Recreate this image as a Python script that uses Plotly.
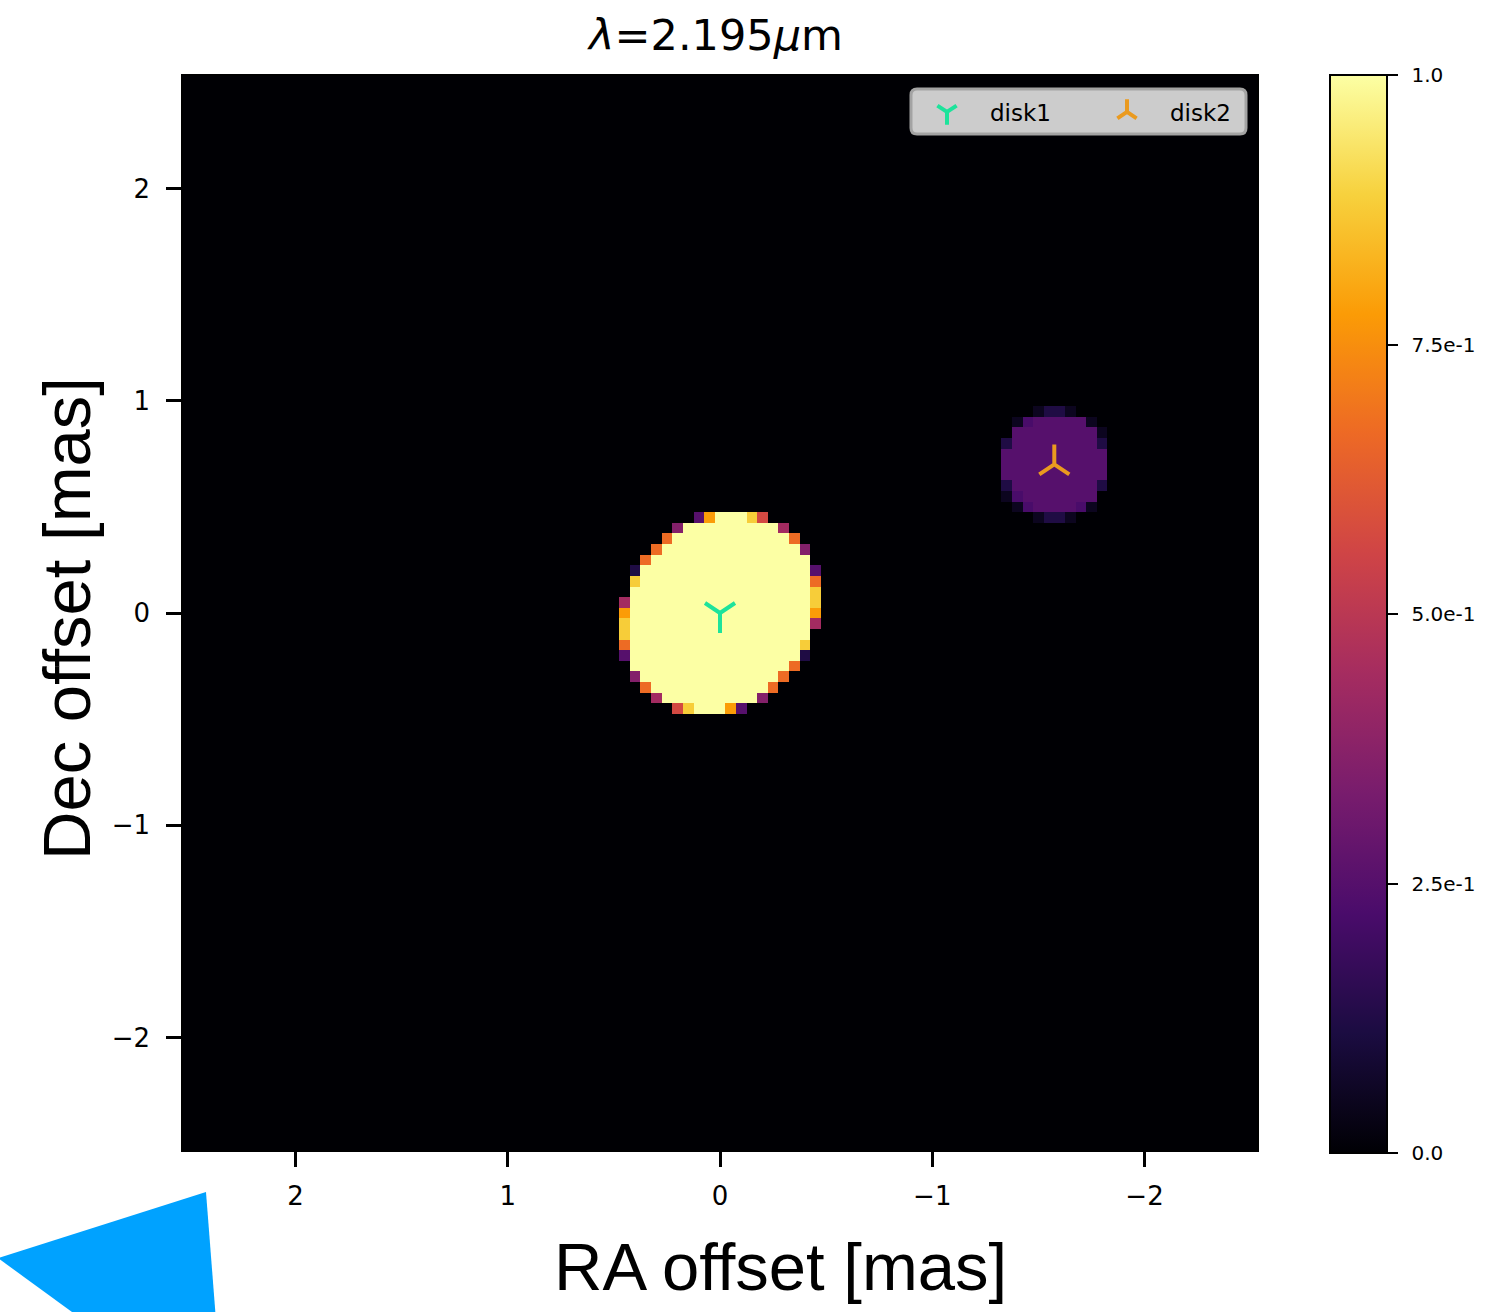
import numpy as np
import plotly.graph_objects as go

# ---------------- data ----------------
PIX = 0.05          # mas per image pixel
N = 101             # image is N x N pixels, centred on 0
COLOR_LEVELS = {'.': 0.0, 'k': 0.05, 'n': 0.12, 'q': 0.22, 'p': 0.25, 'm': 0.36,
                'M': 0.44, 'r': 0.57, 'o': 0.67, 'O': 0.78, 'y': 0.88, '#': 1.0}

# pixel maps (rows top->bottom, columns left->right on screen)
DISK1_MAP = [
    ".......pO###yr.....",
    ".....m#########M...",
    "....o###########o..",
    "...o#############m.",
    "..o###############.",
    ".n################p",
    ".y################o",
    ".#################y",
    "M#################y",
    "O#################O",
    "y#################M",
    "y#################.",
    "o################y.",
    "p################n.",
    ".###############o..",
    ".m#############o...",
    "..o###########o....",
    "...M#########m.....",
    ".....ry###Op.......",
]
DISK2_MAP = [
    "...knnk...",
    ".kqpppppk.",
    ".ppppppppk",
    "nppppppppn",
    "pppppppppp",
    "pppppppppp",
    "pppppppppp",
    "nppppppppn",
    "kqppppppp.",
    ".kqppppqk.",
    "...knnk...",
]
DISK_NAMES = ["disk1", "disk2"]
DISK_RA = [0.0, -1.575]     # mas
DISK_DEC = [0.0, 0.70]      # mas
DISK_MAPS = [DISK1_MAP, DISK2_MAP]

X_TICKS = [2, 1, 0, -1, -2]
X_TICKTEXT = ["2", "1", "0", "\u22121", "\u22122"]
Y_TICKS = [-2, -1, 0, 1, 2]
Y_TICKTEXT = ["\u22122", "\u22121", "0", "1", "2"]
CB_TICKS = [0.0, 0.25, 0.5, 0.75, 1.0]
CB_TICKTEXT = ["0.0", "2.5e-1", "5.0e-1", "7.5e-1", "1.0"]
TITLE = "<i>\u03bb</i>=2.195<i>\u03bc</i>m"

# ---------------- build image ----------------
coords = (np.arange(N) - N // 2) * PIX
z = np.zeros((N, N))
for pat, ra, dec in zip(DISK_MAPS, DISK_RA, DISK_DEC):
    nr, nc = len(pat), len(pat[0])
    cx = -ra / PIX
    cy = -dec / PIX
    c0 = int(round(cx - (nc - 1) / 2))
    r0 = int(round(cy - (nr - 1) / 2))
    for i, row in enumerate(pat):
        for j, ch in enumerate(row):
            r = r0 + i
            c = c0 + j
            iy = N // 2 - r
            ix = N // 2 - c
            if 0 <= iy < N and 0 <= ix < N:
                z[iy, ix] = max(z[iy, ix], COLOR_LEVELS[ch])

# ---------------- style ----------------
W, H = 1485, 1312
L, R, T, B = 183, 228, 76, 162
PW = W - L - R
PH = H - T - B
TICK_FONT = dict(family="DejaVu Sans", size=26, color="black")
LABEL_FONT = dict(family="Liberation Sans, Arial, sans-serif", size=67, color="black")
MARKER_SYMBOLS = ["y-down", "y-up"]
MARKER_COLORS = ["#1de39b", "#ea9a1f"]
PAD = "\u2002"


def px_x(p):
    return (p - L) / PW


def px_y(p):
    return (H - B - p) / PH


def rounded_rect(x0, y0, x1, y1, rad):
    return ("M {a},{b} L {c},{b} Q {x1},{b} {x1},{d} L {x1},{e} Q {x1},{f} {c},{f} "
            "L {a},{f} Q {x0},{f} {x0},{e} L {x0},{d} Q {x0},{b} {a},{b} Z").format(
        a=px_x(x0 + rad), b=px_y(y0), c=px_x(x1 - rad), d=px_y(y0 + rad),
        e=px_y(y1 - rad), f=px_y(y1), x0=px_x(x0), x1=px_x(x1))


fig = go.Figure()
fig.add_trace(go.Heatmap(
    x=coords, y=coords, z=z, zmin=0, zmax=1,
    colorscale="Inferno", showscale=True, hoverinfo="skip",
    colorbar=dict(
        x=px_x(1330), xanchor="left", xpad=0, ypad=0,
        y=px_y(614), yanchor="middle",
        len=1078, lenmode="pixels",
        thickness=57, thicknessmode="pixels",
        outlinecolor="black", outlinewidth=2,
        tickvals=CB_TICKS, ticktext=[PAD + t for t in CB_TICKTEXT],
        ticks="outside", ticklen=10, tickwidth=2, tickcolor="black",
        tickfont=dict(family="DejaVu Sans", size=20, color="black"),
    ),
))

for name, ra, dec, sym, col in zip(DISK_NAMES, DISK_RA, DISK_DEC, MARKER_SYMBOLS, MARKER_COLORS):
    fig.add_trace(go.Scatter(
        x=[ra], y=[dec], mode="markers", name=name,
        marker=dict(symbol=sym, size=25, color=col, line=dict(color=col, width=4)),
    ))

fig.update_layout(
    width=W, height=H,
    margin=dict(l=L, r=R, t=T, b=B, autoexpand=False),
    paper_bgcolor="white", plot_bgcolor="#000004",
    title=dict(text=TITLE, x=px_x(716), xref="paper", xanchor="center",
               y=1 - 35 / H, yref="container", yanchor="middle",
               font=dict(family="DejaVu Sans", size=43, color="black")),
    showlegend=True,
    legend=dict(
        orientation="h", x=px_x(904), xanchor="left", y=px_y(112), yanchor="middle",
        bgcolor="rgba(0,0,0,0)", borderwidth=0,
        font=dict(family="DejaVu Sans", size=23, color="black"),
        itemwidth=76, entrywidth=89,
    ),
    xaxis=dict(
        range=[2.53, -2.53], tickvals=X_TICKS, ticktext=X_TICKTEXT,
        ticks="outside", ticklen=15, tickwidth=3, tickcolor="black",
        tickfont=TICK_FONT, ticklabelstandoff=7,
        showgrid=False, zeroline=False, showline=True, linecolor="black",
        linewidth=1.5, mirror=True,
    ),
    yaxis=dict(
        range=[-2.53, 2.53], tickvals=Y_TICKS, ticktext=Y_TICKTEXT,
        ticks="outside", ticklen=15, tickwidth=3, tickcolor="black",
        tickfont=TICK_FONT, ticklabelstandoff=11,
        showgrid=False, zeroline=False, showline=True, linecolor="black",
        linewidth=1.5, mirror=True,
    ),
    annotations=[
        dict(text="RA offset [mas]", xref="paper", yref="paper",
             x=px_x(780), y=px_y(1266), xanchor="center", yanchor="middle",
             showarrow=False, font=LABEL_FONT),
        dict(text="Dec offset [mas]", xref="paper", yref="paper",
             x=px_x(66), y=px_y(619), xanchor="center", yanchor="middle",
             textangle=-90, showarrow=False, font=LABEL_FONT),
    ],
    shapes=[
        # legend frame
        dict(type="path", xref="paper", yref="paper", layer="above",
             path=rounded_rect(911, 89, 1246, 134, 6),
             fillcolor="#cccccc", line=dict(color="#a3a3a3", width=3)),
        # blue corner decoration
        dict(type="path", xref="paper", yref="paper", layer="above",
             path=("M {:.4f},{:.4f} L {:.4f},{:.4f} L {:.4f},{:.4f} L {:.4f},{:.4f} Z").format(
                 px_x(-2), px_y(1258), px_x(206), px_y(1192),
                 px_x(216), px_y(1320), px_x(83), px_y(1320)),
             fillcolor="#00a2ff", line=dict(width=0)),
    ],
)

fig.write_html("out.html", config={"displayModeBar": False},
               post_script="document.body.style.margin='0';")
